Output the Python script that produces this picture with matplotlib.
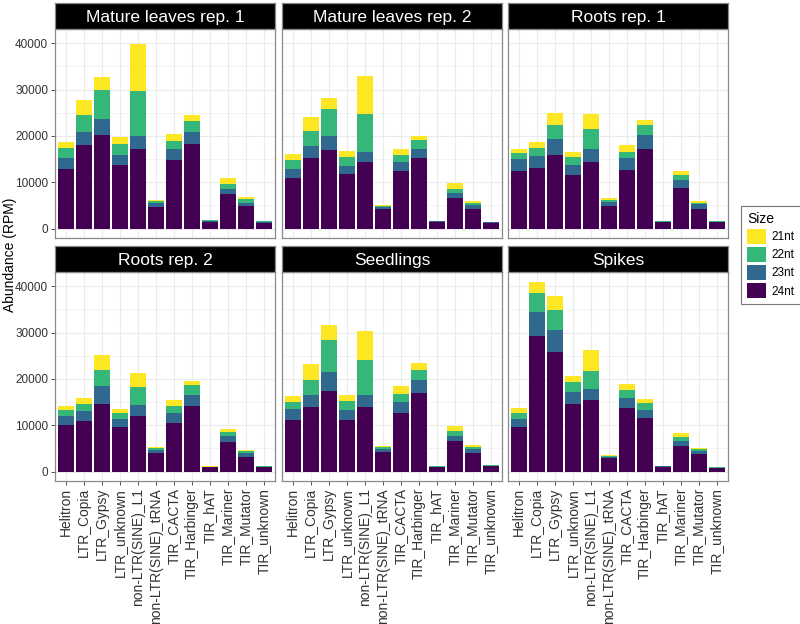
import matplotlib
matplotlib.use("Agg")
import matplotlib.pyplot as plt
from matplotlib.patches import Patch
import numpy as np

plt.rcParams['font.family'] = ['Liberation Sans', 'DejaVu Sans']

categories = ['Helitron', 'LTR_Copia', 'LTR_Gypsy', 'LTR_unknown', 'non-LTR(SINE)_L1',
              'non-LTR(SINE)_tRNA', 'TIR_CACTA', 'TIR_Harbinger', 'TIR_hAT', 'TIR_Mariner',
              'TIR_Mutator', 'TIR_unknown']
panels = ['Mature leaves rep. 1', 'Mature leaves rep. 2', 'Roots rep. 1',
          'Roots rep. 2', 'Seedlings', 'Spikes']
sizes = ['21nt', '22nt', '23nt', '24nt']
colors = {'21nt': '#FDE725', '22nt': '#35B779', '23nt': '#31688E', '24nt': '#440154'}

# RPM per panel, one list per size class
nt24 = [
    [12760, 17930, 20290, 13770, 17140, 4730, 14840, 18280, 1430, 7460, 4880, 1290],
    [10830, 15200, 16920, 11690, 14410, 4160, 12480, 15130, 1360, 6670, 4300, 1220],
    [12480, 13120, 15850, 11470, 14340, 4950, 12690, 17280, 1360, 8750, 4300, 1360],
    [10010, 11010, 14510, 9510, 11940, 4080, 10440, 14230, 900, 6290, 3080, 950],
    [11230, 13870, 17450, 11230, 14010, 4290, 12660, 17020, 950, 6510, 4080, 1150],
    [9720, 29320, 25740, 14660, 15370, 2860, 13660, 11650, 1000, 5510, 3720, 750],
]
nt23 = [
    [2510, 2930, 3370, 2080, 2790, 790, 2230, 2580, 200, 1140, 640, 170],
    [2080, 2580, 3010, 1790, 2220, 500, 1860, 2080, 160, 1070, 860, 120],
    [2510, 2440, 3580, 2220, 2730, 860, 2440, 3010, 150, 1790, 930, 150],
    [2070, 2150, 4010, 1860, 2430, 640, 2290, 2290, 100, 1360, 850, 100],
    [2360, 2720, 4070, 2000, 2440, 640, 2280, 2640, 110, 1210, 860, 110],
    [1720, 5220, 4860, 2570, 2510, 290, 2280, 1720, 110, 1000, 790, 80],
]
nt22 = [
    [2080, 3730, 6170, 2500, 9830, 360, 1930, 2440, 150, 1080, 790, 120],
    [1790, 3230, 5810, 2010, 8110, 220, 1580, 1860, 90, 860, 360, 60],
    [1360, 1790, 3010, 1650, 4440, 430, 1500, 2010, 90, 1000, 360, 80],
    [1150, 1500, 3430, 1210, 3930, 290, 1360, 2070, 60, 860, 430, 50],
    [1500, 3140, 6790, 1930, 7650, 290, 1860, 2360, 60, 930, 350, 60],
    [1290, 3930, 4220, 2080, 3860, 210, 1650, 1430, 60, 850, 280, 40],
]
nt21 = [
    [1440, 3230, 2940, 1370, 10180, 290, 1360, 1220, 80, 1150, 430, 70],
    [1290, 3010, 2440, 1220, 8240, 210, 1150, 1010, 60, 1220, 430, 40],
    [930, 1440, 2580, 1150, 3150, 280, 1300, 1070, 60, 940, 360, 60],
    [860, 1210, 3290, 1010, 2940, 280, 1350, 1000, 40, 570, 290, 30],
    [1210, 3440, 3290, 1360, 6220, 290, 1580, 1360, 40, 1150, 360, 40],
    [930, 2570, 3010, 1350, 4430, 290, 1360, 930, 40, 860, 290, 30],
]

W, H = 800, 624
fig = plt.figure(figsize=(W / 100, H / 100), dpi=100)

col_x = [55, 282, 508]
pw = 220
row_y = [29, 272]   # panel top in pixels
ph = 209
strip_h = 26

x = np.arange(1, len(categories) + 1)

for i, name in enumerate(panels):
    r, c = divmod(i, 3)
    left = col_x[c] / W
    bottom = 1 - (row_y[r] + ph) / H
    ax = fig.add_axes([left, bottom, pw / W, ph / H])
    base = np.zeros(len(categories))
    for s, vals in zip(['24nt', '23nt', '22nt', '21nt'], [nt24, nt23, nt22, nt21]):
        v = np.array(vals[i])
        ax.bar(x, v, bottom=base, width=0.9, color=colors[s], linewidth=0, zorder=3)
        base += v
    ax.set_xlim(0.4, 12.6)
    ax.set_ylim(-2052, 43092)
    ax.set_yticks([0, 10000, 20000, 30000, 40000])
    ax.set_yticks([5000, 15000, 25000, 35000], minor=True)
    ax.set_xticks(x)
    ax.grid(True, which='major', color='#EBEBEB', linewidth=0.8, zorder=0)
    ax.grid(True, which='minor', axis='y', color='#EBEBEB', linewidth=0.4, zorder=0)
    for sp in ax.spines.values():
        sp.set_color('#8a8a8a')
        sp.set_linewidth(0.9)
    ax.tick_params(which='minor', length=0)
    ax.tick_params(which='major', color='#333333', length=3, width=0.6,
                   labelsize=8.5, labelcolor='#333333', pad=2)
    if c == 0:
        ax.set_yticklabels(['0', '10000', '20000', '30000', '40000'])
    else:
        ax.tick_params(axis='y', length=0, labelleft=False)
    if r == 1:
        ax.set_xticklabels(categories, rotation=90, fontsize=10, color='#333333')
    else:
        ax.tick_params(axis='x', length=0, labelbottom=False)

    sax = fig.add_axes([left, 1 - row_y[r] / H, pw / W, strip_h / H])
    sax.set_facecolor('black')
    sax.set_xticks([])
    sax.set_yticks([])
    for sp in sax.spines.values():
        sp.set_color('#8a8a8a')
        sp.set_linewidth(0.9)
    sax.text(0.5, 0.45, name, color='white', fontsize=12.5, ha='center', va='center',
             transform=sax.transAxes)

fig.text(10 / W, 1 - 255 / H, 'Abundance (RPM)', rotation=90, ha='center', va='center',
         fontsize=10)

handles = [Patch(facecolor=colors[s], edgecolor='none', label=s) for s in sizes]
leg = fig.legend(handles=handles, title='Size', loc='center left',
                 bbox_to_anchor=(741 / W, 1 - 255 / H), fontsize=8.5, title_fontsize=10,
                 handlelength=1.6, handleheight=1.6, labelspacing=0.25, handletextpad=0.5,
                 borderpad=0.5, frameon=True, fancybox=False, borderaxespad=0)
leg.get_frame().set_edgecolor('#555555')
leg.get_frame().set_linewidth(0.8)
leg._legend_box.align = 'left'

fig.savefig('out.png', dpi=100)
